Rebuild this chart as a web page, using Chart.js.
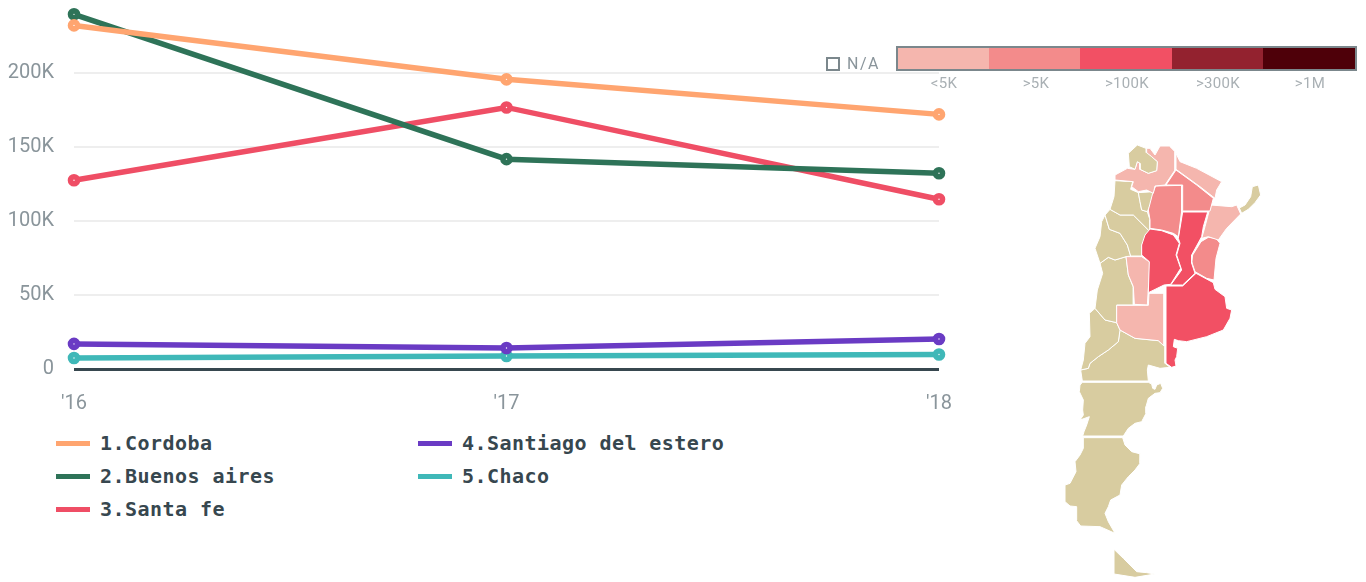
<!DOCTYPE html>
<html lang="en"><head><meta charset="utf-8"><title>Argentina provinces</title>
<script src="https://cdn.jsdelivr.net/npm/chart.js@4"></script>
<style>
  * { box-sizing: border-box; }
  html, body { margin: 0; background: #fff; width: 1366px; height: 582px; overflow: hidden; }
  #wrap { position: relative; width: 1366px; height: 582px; }
  #lines { position: absolute; left: 0; top: 0; }
  #map { position: absolute; left: 1040px; top: 130px; }
  .leg { position: absolute; display: flex; align-items: center; height: 24px; color: #37474f;
         font: bold 20px "DejaVu Sans Mono", monospace; letter-spacing: .45px; white-space: pre; }
  .leg i { width: 34px; height: 5px; margin-right: 10px; flex: none; }
  #bar { position: absolute; left: 896px; top: 46px; width: 461px; height: 25px; display: flex; border: 2px solid #7b878c; }
  #bar i { display: block; height: 100%; }
  .bar-label { position: absolute; top: 74px; transform: translateX(-50%); color: #a9b0b4;
               font: 400 15px Roboto, sans-serif; line-height: 18px; letter-spacing: .3px; }
  #na-box { position: absolute; left: 826px; top: 57px; width: 14px; height: 14px; border: 2px solid #7b878c; }
  #na { position: absolute; left: 847px; top: 54px; color: #8a959b; font: 400 16px Roboto, sans-serif; letter-spacing: 1.5px; line-height: 20px; }
</style></head>
<body>
<div id="wrap">
  <canvas id="lines" width="960" height="420"></canvas>
  <canvas id="map" width="240" height="450"></canvas>
  <div id="na-box"></div><div id="na">N/A</div>
  <div id="bar"></div>
</div>
<script>
const years = ["'16", "'17", "'18"];
const yTicks = [0, 50000, 100000, 150000, 200000];

const cordoba  = [232500, 196000, 172300];
const buenosAires = [240000, 142000, 132500];
const santaFe  = [127700, 177000, 114900];
const santiago = [17000, 14200, 20300];
const chaco    = [7400, 8800, 9800];

const seriesNames = ['1.Cordoba', '2.Buenos aires', '3.Santa fe', '4.Santiago del estero', '5.Chaco'];
const seriesColors = ['#ffa570', '#2e7358', '#ef4e65', '#6a3bc4', '#3fb8b8'];
const seriesValues = [cordoba, buenosAires, santaFe, santiago, chaco];

const scaleLabels = ['<5K', '>5K', '>100K', '>300K', '>1M'];
const scaleColors = ['#f5b6ae', '#f38b8b', '#f25064', '#93222f', '#4e0009'];

// Map outlines, in map units (a third of a page pixel, from the map's top-left)
const jujuy = [[292,45],[265,70],[268,110],[285,118],[292,95],[300,100],[300,118],[325,130],[350,122],[352,95],[335,80],[320,68],[318,55]];
const salta = [[320,55],[330,55],[345,75],[360,48],[388,48],[405,65],[405,120],[375,165],[345,168],[340,190],[320,180],[295,185],[275,170],[280,155],[225,150],[225,135],[262,115],[285,118],[292,95],[300,100],[300,118],[325,130],[350,122],[352,95],[320,70]];
const formosa = [[408,70],[420,95],[470,115],[545,155],[530,180],[525,205],[480,170],[408,118]];
const chacoShape = [[408,120],[470,165],[520,205],[510,243],[428,243],[428,165],[378,165]];
const santiagoShape = [[347,168],[425,166],[425,243],[415,320],[400,310],[365,300],[330,295],[330,270],[325,240],[338,190]];
const santaFeShape = [[428,246],[503,246],[490,290],[485,320],[455,375],[455,400],[465,430],[428,465],[392,465],[425,420],[410,375],[420,340],[415,325]];
const cordobaShape = [[330,297],[365,302],[400,315],[418,340],[408,375],[422,415],[392,463],[372,465],[325,488],[328,395],[305,375],[305,345],[315,315]];
const corrientes = [[512,225],[575,230],[590,225],[602,252],[560,295],[535,330],[505,320],[485,325],[495,290]];
const misiones = [[598,234],[615,225],[632,200],[637,170],[655,165],[662,195],[645,218],[625,238],[605,250]];
const entreRios = [[505,322],[528,325],[540,340],[528,385],[522,450],[500,445],[465,425],[455,395],[458,375],[483,335]];
const buenosAiresShape = [[378,468],[428,468],[468,430],[520,458],[525,478],[555,500],[560,535],[575,540],[570,565],[550,600],[500,620],[440,635],[415,632],[403,628],[400,650],[413,655],[410,680],[405,690],[408,708],[395,712],[378,700]];
const laPampa = [[230,526],[325,526],[327,490],[372,490],[372,648],[355,632],[285,625],[240,600],[230,578]];
const sanLuis = [[258,380],[305,380],[330,397],[322,525],[283,523],[280,470],[265,435]];
const tucuman = [[295,188],[340,185],[335,215],[322,245],[305,240],[300,215]];
const catamarca = [[225,152],[278,155],[272,178],[295,188],[300,215],[305,240],[322,245],[330,270],[330,305],[280,255],[240,255],[210,238],[222,200]];
const laRioja = [[195,255],[210,238],[240,255],[280,255],[330,305],[305,345],[305,378],[272,378],[262,345],[240,310],[208,298]];
const sanJuan = [[195,255],[208,298],[240,310],[262,345],[272,378],[258,380],[225,390],[205,382],[180,400],[165,355],[180,320],[185,275]];
const mendoza = [[180,400],[205,382],[225,390],[258,380],[265,435],[280,472],[280,525],[230,525],[230,578],[195,570],[165,535],[172,480],[188,430]];
const neuquen = [[165,535],[195,570],[230,578],[240,600],[235,635],[205,660],[175,680],[150,700],[145,715],[122,720],[130,690],[135,640],[150,620],[148,550]];
const rioNegro = [[240,600],[285,625],[355,632],[375,650],[375,700],[390,712],[360,715],[325,705],[322,720],[325,753],[127,753],[122,720],[145,715],[150,700],[175,680],[205,660],[235,635]];
const chubut = [[127,757],[325,757],[335,762],[338,775],[345,778],[350,765],[362,760],[368,775],[360,788],[345,790],[325,805],[318,830],[318,850],[305,875],[285,880],[265,895],[250,918],[128,918],[132,905],[140,885],[148,860],[120,870],[130,855],[128,840],[130,810],[118,785],[120,765]];
const santaCruz = [[130,923],[248,923],[255,945],[275,965],[302,972],[300,1000],[285,1020],[265,1040],[245,1065],[240,1095],[212,1110],[205,1130],[195,1150],[205,1175],[225,1210],[180,1190],[122,1188],[108,1170],[110,1130],[90,1128],[75,1115],[75,1065],[90,1060],[108,1025],[105,995],[120,975],[130,955]];
const tierraDelFuego = [[222,1235],[222,1258],[250,1285],[290,1325],[320,1328],[345,1332],[285,1342],[222,1332]];

const beige = '#d8cca0';
const mapShapes = [
  [jujuy, beige], [salta, scaleColors[0]], [formosa, scaleColors[0]], [chacoShape, scaleColors[1]],
  [santiagoShape, scaleColors[1]], [santaFeShape, scaleColors[2]], [cordobaShape, scaleColors[2]],
  [corrientes, scaleColors[0]], [misiones, beige], [entreRios, scaleColors[1]],
  [buenosAiresShape, scaleColors[2]], [laPampa, scaleColors[0]], [sanLuis, scaleColors[0]],
  [tucuman, beige], [catamarca, beige], [laRioja, beige], [sanJuan, beige], [mendoza, beige],
  [neuquen, beige], [rioNegro, beige], [chubut, beige], [santaCruz, beige], [tierraDelFuego, beige],
];

// Legend and colour scale are plain HTML, placed to sit where the reference has them
const wrap = document.getElementById('wrap');
const legendSpots = [[56, 431], [56, 464], [56, 497], [418, 431], [418, 464]];
seriesNames.forEach((name, i) => {
  const el = document.createElement('div');
  el.className = 'leg';
  el.style.left = legendSpots[i][0] + 'px';
  el.style.top = legendSpots[i][1] + 'px';
  el.innerHTML = `<i style="background:${seriesColors[i]}"></i>`;
  el.append(name);
  wrap.appendChild(el);
});

const bar = document.getElementById('bar');
const segWidths = [91, 91, 92, 91, 92];
const labelCenters = [944, 1036, 1127, 1218, 1310];
scaleColors.forEach((c, i) => {
  const seg = document.createElement('i');
  seg.style.background = c;
  seg.style.width = segWidths[i] + 'px';
  bar.appendChild(seg);
  const lab = document.createElement('div');
  lab.className = 'bar-label';
  lab.style.left = labelCenters[i] + 'px';
  lab.textContent = scaleLabels[i];
  wrap.appendChild(lab);
});

const tickFont = { family: 'Roboto', size: 20, weight: '400' };

new Chart(document.getElementById('lines'), {
  type: 'line',
  data: {
    labels: years,
    datasets: seriesNames.map((name, i) => ({
      label: name,
      data: seriesValues[i],
      borderColor: seriesColors[i],
      borderWidth: 5.5,
      tension: 0,
      pointRadius: 3.5,
      pointBorderWidth: 5.6,
      pointBackgroundColor: '#fff',
      pointBorderColor: seriesColors[i],
      clip: false,
    })),
  },
  options: {
    responsive: false, animation: false, devicePixelRatio: 1,
    layout: { padding: { top: 2, right: 21, left: 0, bottom: 0 } },
    plugins: { legend: { display: false }, tooltip: { enabled: false } },
    scales: {
      x: {
        grid: { display: false },
        border: { display: false },
        ticks: { color: '#8a959b', font: tickFont, padding: 15, maxRotation: 0, autoSkip: false },
        // fixed axis band, no label overhang, so the plot area lands on known pixels
        afterFit: s => { s.height = 51; s.paddingLeft = 0; s.paddingRight = 0; },
      },
      y: {
        min: 0, max: 243200,
        grid: {
          drawTicks: false,
          color: c => (c.tick.value === 0 ? '#37474f' : '#eeeeee'),
          lineWidth: c => (c.tick.value === 0 ? 3 : 2),
        },
        border: { display: false },
        ticks: {
          color: '#8a959b', font: tickFont, padding: 20,
          callback: v => (v === 0 ? '0' : v / 1000 + 'K'),
        },
        afterBuildTicks: s => { s.ticks = yTicks.map(value => ({ value })); },
        afterFit: s => { s.width = 74; s.paddingTop = 0; s.paddingBottom = 0; },
      },
    },
  },
});

new Chart(document.getElementById('map'), {
  type: 'scatter',
  data: {
    datasets: mapShapes.map(([pts, color]) => ({
      data: [...pts, pts[0]].map(([x, y]) => ({ x, y })),
      showLine: true,
      fill: 'shape',
      backgroundColor: color,
      borderColor: '#fff',
      borderWidth: 1,
      pointRadius: 0,
      tension: 0,
    })),
  },
  options: {
    responsive: false, animation: false, devicePixelRatio: 1,
    layout: { padding: 0 },
    plugins: { legend: { display: false }, tooltip: { enabled: false } },
    scales: {
      x: { display: false, min: 0, max: 720 },
      y: { display: false, min: 0, max: 1350, reverse: true },
    },
  },
});
</script>
</body></html>
